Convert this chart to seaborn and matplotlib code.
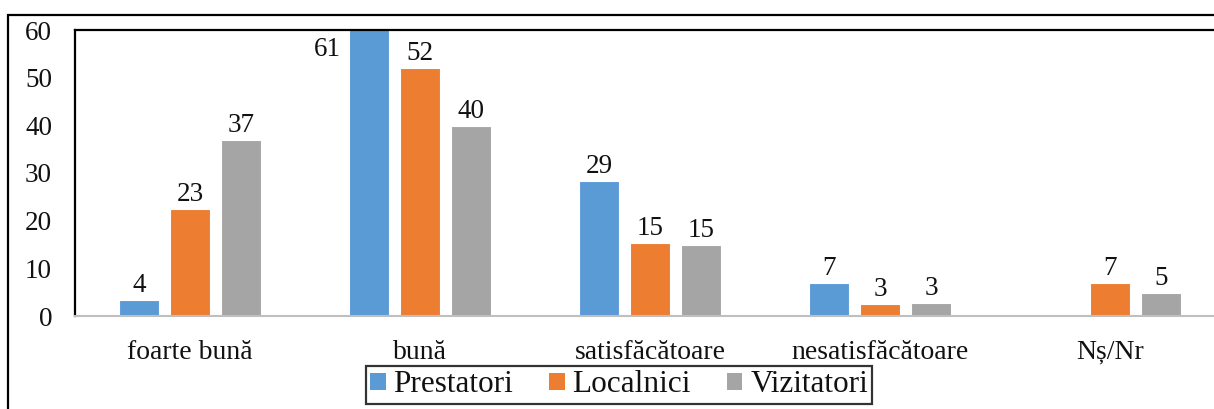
import matplotlib
matplotlib.use("Agg")
import matplotlib.pyplot as plt
import seaborn as sns
import pandas as pd
from matplotlib.patches import Patch, Rectangle

categories = ["foarte bună", "bună", "satisfăcătoare", "nesatisfăcătoare", "Nș/Nr"]
series = ["Prestatori", "Localnici", "Vizitatori"]
prestatori = [3.4, 61, 28.4, 6.9, 0]
localnici = [22.4, 52, 15.3, 2.6, 6.9]
vizitatori = [36.9, 39.8, 14.9, 2.8, 4.8]
labels_prestatori = ["4", "61", "29", "7", ""]
labels_localnici = ["23", "52", "15", "3", "7"]
labels_vizitatori = ["37", "40", "15", "3", "5"]
yticks = [0, 10, 20, 30, 40, 50, 60]
colors = ["#5B9BD5", "#ED7D31", "#A5A5A5"]

values = [prestatori, localnici, vizitatori]
labels = [labels_prestatori, labels_localnici, labels_vizitatori]

rows = []
for s, vals in zip(series, values):
    for c, v in zip(categories, vals):
        rows.append({"cat": c, "series": s, "val": v})
df = pd.DataFrame(rows)

sns.set_style("white")
plt.rcParams["font.family"] = ["Liberation Serif", "DejaVu Serif"]

W, H = 1214, 409
fig = plt.figure(figsize=(W / 100, H / 100), dpi=100)
ax = fig.add_axes([75 / W, 1 - 316 / H, 1150 / W, 286 / H])

sns.barplot(data=df, x="cat", y="val", hue="series", order=categories,
            hue_order=series, palette=colors, width=0.665, gap=0.216,
            edgecolor="white", linewidth=0.8, saturation=1, legend=False, ax=ax)

ax.set_xlim(-0.5, 4.5)
ax.set_ylim(0, 60)
ax.set_yticks(yticks)
ax.set_xlabel("")
ax.set_ylabel("")
ax.tick_params(axis="y", length=0, pad=16.5, labelsize=19.5, labelcolor="#111111")
ax.tick_params(axis="x", length=0, pad=17, labelsize=20, labelcolor="#111111")

for sp in ["top", "left"]:
    ax.spines[sp].set_color("black")
    ax.spines[sp].set_linewidth(1.6)
ax.spines["bottom"].set_color("#BFBFBF")
ax.spines["bottom"].set_linewidth(1.5)
ax.spines["right"].set_visible(False)

ymax = 60
for cont, labs in zip(ax.containers, labels):
    for bar, lab in zip(cont, labs):
        if not lab:
            continue
        x = bar.get_x() + bar.get_width() / 2
        h = bar.get_height()
        if h > ymax:
            ax.annotate(lab, (bar.get_x(), ymax), xytext=(-6, -5),
                        textcoords="offset points", ha="right", va="top",
                        fontsize=19.5, color="#111111")
        else:
            ax.annotate(lab, (x, h), xytext=(0, 1.5),
                        textcoords="offset points", ha="center", va="bottom",
                        fontsize=19.5, color="#111111")

# outer chart frame (cropped)
fig.patches.append(Rectangle((7.5 / W, -0.1), 1.2, 1 - 15.5 / H + 0.1,
                             transform=fig.transFigure, fill=False,
                             edgecolor="black", linewidth=1.6))

handles = [Patch(facecolor=c, edgecolor="none") for c in colors]
leg = fig.legend(handles, series, loc="center", bbox_to_anchor=(619 / W, 1 - 385 / H),
                 ncol=3, fontsize=22.5, frameon=True, fancybox=False,
                 handlelength=0.5, handleheight=0.5, handletextpad=0.25,
                 columnspacing=1.15, borderpad=0.14, borderaxespad=0)
for t in leg.get_texts():
    t.set_color("#111111")
leg.get_frame().set_edgecolor("black")
leg.get_frame().set_linewidth(1.6)

fig.savefig("out.png", dpi=100)
